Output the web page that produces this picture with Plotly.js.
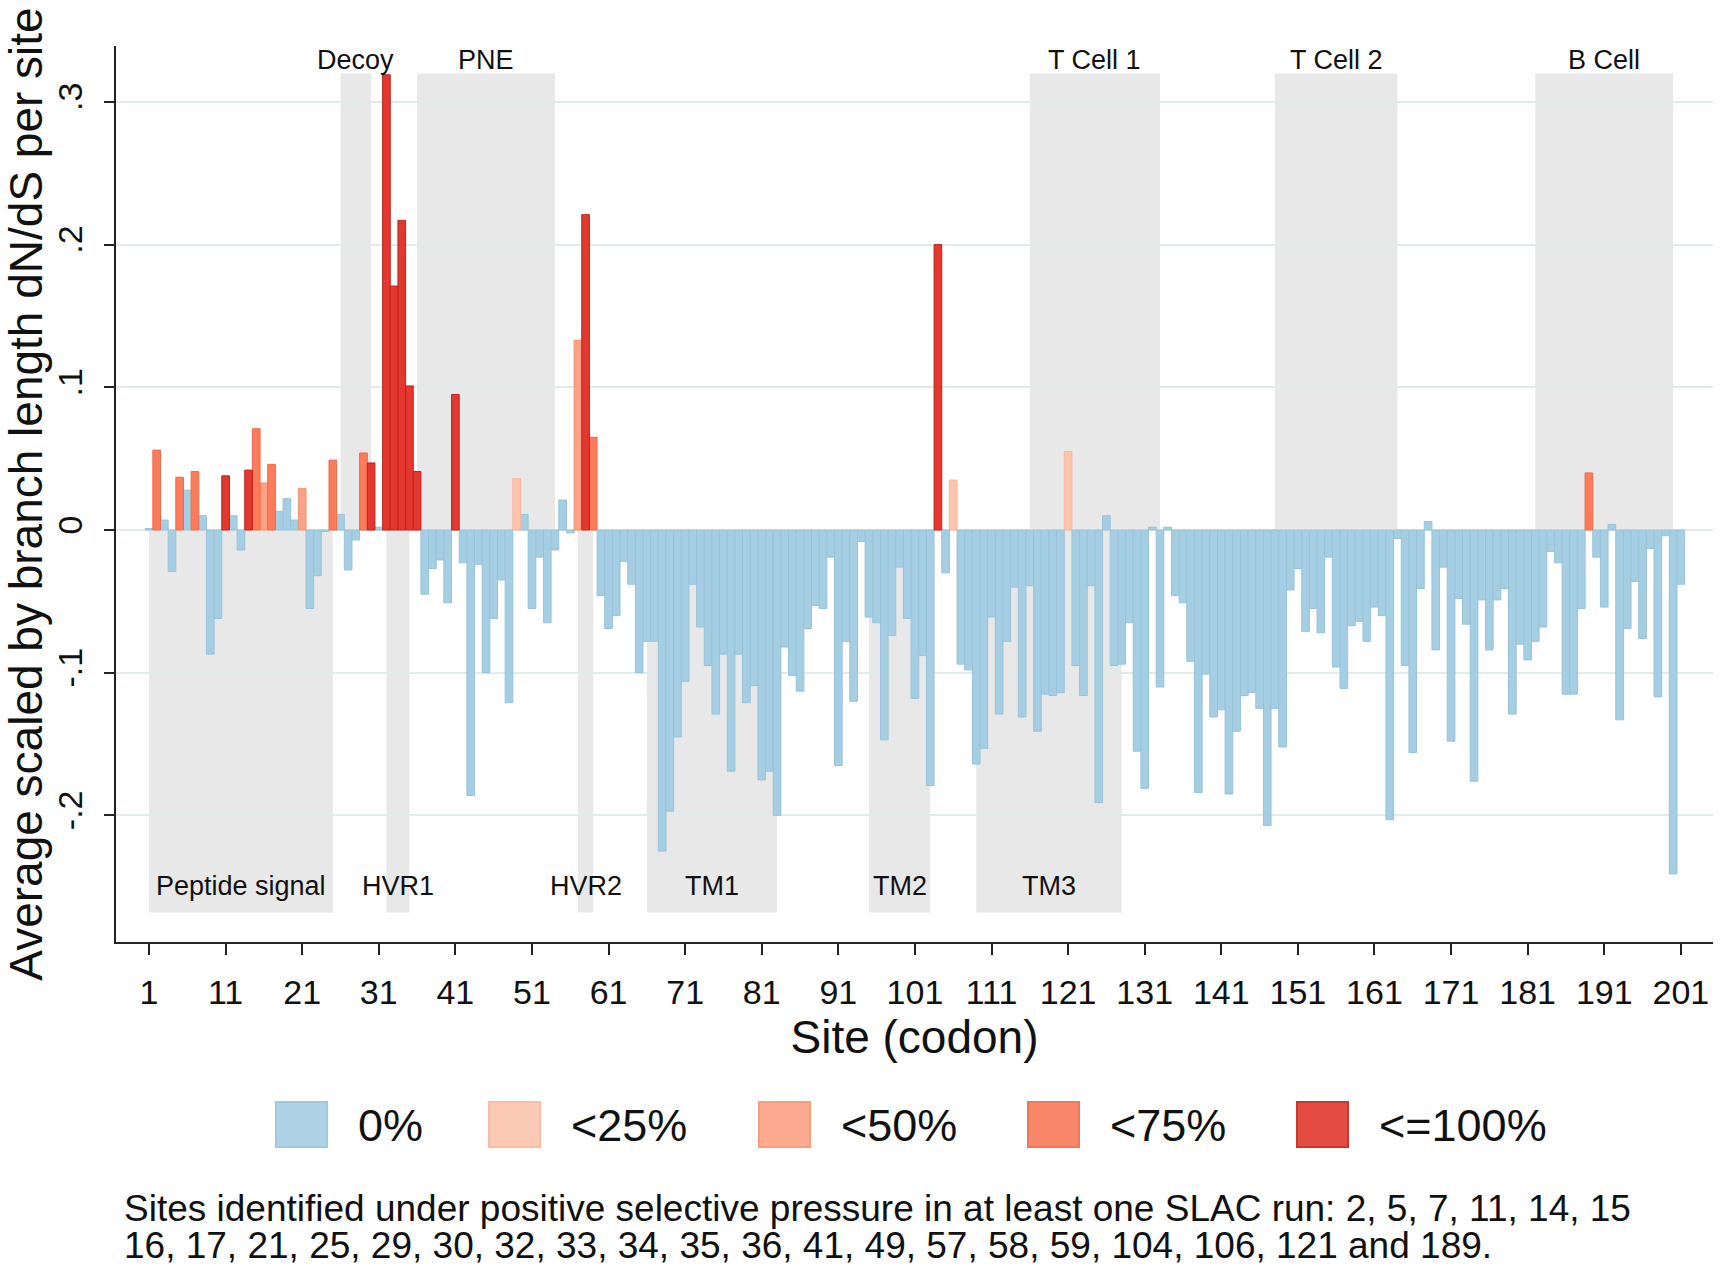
<!DOCTYPE html>
<html>
<head>
<meta charset="utf-8">
<script src="https://cdn.plot.ly/plotly-3.0.1.min.js"></script>
<style>
  html, body { margin: 0; padding: 0; background: #fff; }
  #chart { width: 1720px; height: 1268px; }
</style>
</head>
<body>
<div id="chart"></div>
<script>
// ---- Data: average scaled dN/dS per site (sites 1..201) ----
const dnds = [
  0.001, 0.056, 0.007, -0.029, 0.037, 0.028, 0.041, 0.010, -0.087, -0.062,
  0.038, 0.010, -0.014, 0.042, 0.071, 0.033, 0.046, 0.013, 0.022, 0.007,
  0.029, -0.055, -0.032, -0.001, 0.049, 0.011, -0.028, -0.007, 0.054, 0.047,
  0.002, 0.319, 0.171, 0.217, 0.101, 0.041, -0.045, -0.027, -0.021, -0.051,
  0.095, -0.023, -0.186, -0.024, -0.100, -0.062, -0.035, -0.121, 0.036, 0.011,
  -0.055, -0.019, -0.065, -0.014, 0.021, -0.002, 0.133, 0.221, 0.065, -0.046,
  -0.069, -0.060, -0.022, -0.038, -0.100, -0.078, -0.078, -0.225, -0.197, -0.145,
  -0.106, -0.038, -0.068, -0.095, -0.129, -0.087, -0.169, -0.087, -0.121, -0.109,
  -0.175, -0.169, -0.200, -0.082, -0.102, -0.113, -0.069, -0.053, -0.055, -0.019,
  -0.165, -0.078, -0.120, -0.008, -0.061, -0.065, -0.147, -0.074, -0.026, -0.062,
  -0.118, -0.088, -0.179, 0.200, -0.030, 0.035, -0.094, -0.098, -0.164, -0.153,
  -0.061, -0.129, -0.078, -0.040, -0.131, -0.039, -0.141, -0.115, -0.116, -0.114,
  0.055, -0.095, -0.116, -0.039, -0.191, 0.010, -0.095, -0.094, -0.065, -0.155,
  -0.181, 0.002, -0.110, 0.002, -0.046, -0.051, -0.092, -0.184, -0.101, -0.131,
  -0.126, -0.185, -0.141, -0.116, -0.114, -0.125, -0.207, -0.125, -0.152, -0.042,
  -0.027, -0.071, -0.055, -0.072, -0.019, -0.096, -0.111, -0.067, -0.064, -0.078,
  -0.054, -0.060, -0.203, -0.006, -0.095, -0.156, -0.041, 0.006, -0.084, -0.026,
  -0.148, -0.048, -0.066, -0.176, -0.049, -0.084, -0.049, -0.041, -0.129, -0.080,
  -0.091, -0.078, -0.068, -0.015, -0.023, -0.115, -0.115, -0.055, 0.040, -0.019,
  -0.054, 0.004, -0.133, -0.069, -0.036, -0.076, -0.013, -0.117, -0.004, -0.241,
  -0.038
];

// Sites under positive selection and their SLAC-run share class (index into categories)
const slacSites = [2, 5, 7, 11, 14, 15, 16, 17, 21, 25, 29, 30, 32, 33, 34, 35, 36, 41, 49, 57, 58, 59, 104, 106, 121, 189];
const slacClass = [3, 3, 3, 4, 4, 3, 2, 3, 2, 3, 3, 4, 4, 4, 4, 4, 4, 4, 1, 2, 4, 3, 4, 1, 1, 3];

const categories = ['0%', '<25%', '<50%', '<75%', '<=100%'];
const catColors = ['#A6CEE3', '#FCC4AD', '#FCA185', '#FB7B5B', '#E2382F'];
const catEdges  = ['#98C3DB', '#F8B69C', '#F69273', '#EE6A4A', '#C4221D'];

// Protein regions
const topRegions = ['Decoy', 'PNE', 'T Cell 1', 'T Cell 2', 'B Cell'];
const topStart   = [26, 36, 116, 148, 182];
const topEnd     = [30, 54, 133, 164, 200];
const botRegions = ['Peptide signal', 'HVR1', 'HVR2', 'TM1', 'TM2', 'TM3'];
const botStart   = [1, 32, 57, 66, 95, 109];
const botEnd     = [25, 35, 59, 83, 103, 128];
const regionTop = 0.32, regionBottom = -0.268;

const xTicks = [1, 11, 21, 31, 41, 51, 61, 71, 81, 91, 101, 111, 121, 131, 141, 151, 161, 171, 181, 191, 201];
const yTicks = [-0.2, -0.1, 0, 0.1, 0.2, 0.3];
const yTickText = ['-.2', '-.1', '0', '.1', '.2', '.3'];

const noteLines = [
  'Sites identified under positive selective pressure in at least one SLAC run: 2, 5, 7, 11, 14, 15',
  '16, 17, 21, 25, 29, 30, 32, 33, 34, 35, 36, 41, 49, 57, 58, 59, 104, 106, 121 and 189.'
];

// ---- Build traces ----
const sites = dnds.map((_, i) => i + 1);
const siteClass = sites.map(s => {
  const k = slacSites.indexOf(s);
  return k >= 0 ? slacClass[k] : 0;
});

const traces = categories.map((name, c) => {
  const xs = [], ys = [];
  sites.forEach((s, i) => { if (siteClass[i] === c) { xs.push(s); ys.push(dnds[i]); } });
  return {
    type: 'bar', name: name, x: xs, y: ys, width: 1,
    marker: { color: catColors[c], line: { color: catEdges[c], width: 1 } },
    showlegend: false, hoverinfo: 'x+y'
  };
});

// ---- Layout geometry (pixels) ----
const W = 1720, H = 1268;
const ML = 116, MR = 7, MT = 46, MB = 326;
const PW = W - ML - MR, PH = H - MT - MB;
const px = p => (p - ML) / PW;
const py = p => (MT + PH - p) / PH;

const FONT = 'Liberation Sans, Arial, sans-serif';
const shapes = [];
const annotations = [];

topRegions.forEach((name, i) => {
  shapes.push({ type: 'rect', xref: 'x', yref: 'y', layer: 'below',
    x0: topStart[i], x1: topEnd[i], y0: 0, y1: regionTop,
    fillcolor: '#E8E8E8', line: { width: 0 } });
  annotations.push({ x: (topStart[i] + topEnd[i]) / 2, y: 0.3295, xref: 'x', yref: 'y',
    text: name, showarrow: false, font: { family: FONT, size: 27, color: '#111' } });
});
botRegions.forEach((name, i) => {
  shapes.push({ type: 'rect', xref: 'x', yref: 'y', layer: 'below',
    x0: botStart[i], x1: botEnd[i], y0: regionBottom, y1: 0,
    fillcolor: '#E8E8E8', line: { width: 0 } });
  annotations.push({ x: (botStart[i] + botEnd[i]) / 2, y: -0.2495, xref: 'x', yref: 'y',
    text: name, showarrow: false, font: { family: FONT, size: 27, color: '#111' } });
});

// Legend (drawn as boxes + labels below the plot)
const legBoxLeft = [276, 489, 759, 1028, 1297];
categories.forEach((name, c) => {
  shapes.push({ type: 'rect', xref: 'paper', yref: 'paper',
    x0: px(legBoxLeft[c]), x1: px(legBoxLeft[c] + 51), y0: py(1147), y1: py(1102),
    fillcolor: catColors[c], opacity: 0.9, line: { color: catEdges[c], width: 2 } });
  annotations.push({ xref: 'paper', yref: 'paper', x: px(legBoxLeft[c] + 80), y: py(1125),
    xanchor: 'left', yanchor: 'middle', text: name, showarrow: false,
    font: { family: FONT, size: 45, color: '#111' } });
});

noteLines.forEach((t, i) => {
  annotations.push({ xref: 'paper', yref: 'paper', x: px(122), y: py(1208 + i * 37),
    xanchor: 'left', yanchor: 'middle', text: t, showarrow: false,
    font: { family: FONT, size: 37, color: '#111' } });
});

const layout = {
  width: W, height: H,
  margin: { l: ML, r: MR, t: MT, b: MB, pad: 0 },
  paper_bgcolor: '#fff', plot_bgcolor: '#fff',
  font: { family: FONT, color: '#111' },
  barmode: 'overlay', bargap: 0,
  showlegend: false,
  xaxis: {
    range: [-3.31, 205.2], tickvals: xTicks, ticktext: xTicks.map(String),
    showgrid: false, zeroline: false, showline: true, linecolor: '#222', linewidth: 2,
    ticks: 'outside', ticklen: 11, tickwidth: 2, tickcolor: '#222',
    tickfont: { family: FONT, size: 34, color: '#111' }, ticklabelstandoff: 8,
    title: { text: 'Site (codon)', font: { family: FONT, size: 46, color: '#111' }, standoff: 2 }
  },
  yaxis: {
    range: [-0.2887, 0.3392], tickvals: yTicks, ticktext: yTickText, tickangle: -90,
    showgrid: true, gridcolor: '#E1EBEB', gridwidth: 2, zeroline: false,
    showline: true, linecolor: '#222', linewidth: 2,
    ticks: 'outside', ticklen: 10, tickwidth: 2, tickcolor: '#222',
    tickfont: { family: FONT, size: 34, color: '#111' }, ticklabelstandoff: 8,
    title: { text: 'Average scaled by branch length dN/dS per site', font: { family: FONT, size: 46, color: '#111' }, standoff: 2 }
  },
  shapes: shapes,
  annotations: annotations
};

Plotly.newPlot('chart', traces, layout, { displayModeBar: false, staticPlot: true });
</script>
</body>
</html>
